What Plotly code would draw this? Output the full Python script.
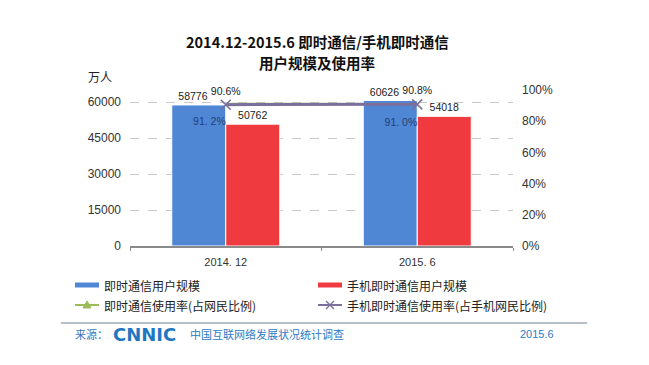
import plotly.graph_objects as go

categories = ["2014. 12", "2015. 6"]
im_users = [58776, 60626]
mobile_im_users = [50762, 54018]
im_rate = [0.912, 0.910]
mobile_im_rate = [0.906, 0.908]

im_rate_labels = ["91. 2%", "91. 0%"]
mobile_rate_labels = ["90.6%", "90.8%"]

W, H = 649, 365
L, R, T, B = 130, 513, 90, 246

def px(x):
    return (x - L) / (R - L)

def py(y):
    return (B - y) / (B - T)

FONT = "Arial, Liberation Sans, Noto Sans CJK SC, sans-serif"
CJK = "Noto Sans CJK SC, sans-serif"
BLUE = "#4f87d4"
RED = "#ef3b3f"
GREEN = "#9bbb59"
PURPLE = "#7b6f9c"
NB = "\u00a0"

fig = go.Figure()
fig.add_trace(go.Bar(
    x=categories, y=im_users, name="即时通信用户规模",
    marker=dict(color=BLUE, line=dict(color="#ffffff", width=1)),
    text=[str(v) + NB * 4 for v in im_users], textposition="outside",
    textfont=dict(size=10.5, color="#222", family=FONT), cliponaxis=False,
))
fig.add_trace(go.Bar(
    x=categories, y=mobile_im_users, name="手机即时通信用户规模",
    marker=dict(color=RED, line=dict(color="#ffffff", width=1)),
    text=[str(v) for v in mobile_im_users], textposition="outside",
    textfont=dict(size=10.5, color="#222", family=FONT), cliponaxis=False,
))
fig.add_trace(go.Scatter(
    x=categories, y=im_rate, yaxis="y2", name="即时通信使用率(占网民比例)",
    mode="lines+text", line=dict(color=GREEN, width=2),
    text=[" <br>" + t for t in im_rate_labels], textposition="bottom left",
    textfont=dict(size=10.5, color="#1f3f7a", family=FONT), cliponaxis=False,
))
fig.add_trace(go.Scatter(
    x=categories, y=mobile_im_rate, yaxis="y2", name="手机即时通信使用率(占手机网民比例)",
    mode="lines+markers+text", line=dict(color=PURPLE, width=3),
    marker=dict(symbol="x-thin", size=10, line=dict(color=PURPLE, width=1.5)),
    text=mobile_rate_labels, textposition="top center",
    textfont=dict(size=10.5, color="#222", family=FONT), cliponaxis=False,
))

shapes = []
annotations = []

# Title
annotations.append(dict(xref="paper", yref="paper", x=px(317), y=py(41), text="<b>2014.12-2015.6 即时通信/手机即时通信</b>",
                        showarrow=False, font=dict(size=14.5, color="#111", family=CJK), xanchor="center", yanchor="middle"))
annotations.append(dict(xref="paper", yref="paper", x=px(317), y=py(62), text="<b>用户规模及使用率</b>",
                        showarrow=False, font=dict(size=14.5, color="#111", family=CJK), xanchor="center", yanchor="middle"))
annotations.append(dict(xref="paper", yref="paper", x=px(100), y=py(76), text="万人",
                        showarrow=False, font=dict(size=12, color="#222", family=CJK), xanchor="center", yanchor="middle"))

# Legend (manual)
leg = [
    (75, 285, BLUE, "bar", "即时通信用户规模"),
    (318, 285, RED, "bar", "手机即时通信用户规模"),
    (75, 305, GREEN, "tri", "即时通信使用率(占网民比例)"),
    (318, 305, PURPLE, "x", "手机即时通信使用率(占手机网民比例)"),
]
for x0, yy, col, kind, label in leg:
    if kind == "bar":
        shapes.append(dict(type="line", xref="paper", yref="paper", x0=px(x0), x1=px(x0 + 24), y0=py(yy), y1=py(yy),
                           line=dict(color=col, width=5)))
    else:
        shapes.append(dict(type="line", xref="paper", yref="paper", x0=px(x0), x1=px(x0 + 24), y0=py(yy), y1=py(yy),
                           line=dict(color=col, width=2)))
        cx = x0 + 12
        if kind == "tri":
            shapes.append(dict(type="path", xref="paper", yref="paper",
                               path=f"M {px(cx-4)},{py(yy+3)} L {px(cx+4)},{py(yy+3)} L {px(cx)},{py(yy-4)} Z",
                               fillcolor=col, line=dict(color=col, width=1)))
        else:
            shapes.append(dict(type="line", xref="paper", yref="paper", x0=px(cx-4), x1=px(cx+4), y0=py(yy-4), y1=py(yy+4),
                               line=dict(color=col, width=1.2)))
            shapes.append(dict(type="line", xref="paper", yref="paper", x0=px(cx-4), x1=px(cx+4), y0=py(yy+4), y1=py(yy-4),
                               line=dict(color=col, width=1.2)))
    annotations.append(dict(xref="paper", yref="paper", x=px(x0 + 27), y=py(yy), text=label, showarrow=False,
                            font=dict(size=12, color="#222", family=CJK), xanchor="left", yanchor="middle"))

# Footer
shapes.append(dict(type="line", xref="paper", yref="paper", x0=px(61), x1=px(587), y0=py(323), y1=py(323),
                   line=dict(color="#6f7f8f", width=1)))
annotations.append(dict(xref="paper", yref="paper", x=px(73), y=py(334), text="来源：", showarrow=False,
                        font=dict(size=11, color="#3a78b8", family=CJK), xanchor="left", yanchor="middle"))
annotations.append(dict(xref="paper", yref="paper", x=px(111), y=py(334), text="<b>CNNIC</b>", showarrow=False,
                        font=dict(size=18, color="#1d78c1", family="DejaVu Sans, sans-serif"), xanchor="left", yanchor="middle"))
annotations.append(dict(xref="paper", yref="paper", x=px(188), y=py(334), text="中国互联网络发展状况统计调查", showarrow=False,
                        font=dict(size=11, color="#2b7bc4", family=CJK), xanchor="left", yanchor="middle"))
annotations.append(dict(xref="paper", yref="paper", x=px(556), y=py(334), text="2015.6", showarrow=False,
                        font=dict(size=11, color="#2b7bc4", family=FONT), xanchor="right", yanchor="middle"))

fig.update_layout(
    width=W, height=H,
    margin=dict(l=L, r=W - R, t=T, b=H - B),
    paper_bgcolor="white", plot_bgcolor="white",
    barmode="group", bargap=0.436, bargroupgap=0,
    showlegend=False,
    font=dict(family=FONT, size=12, color="#333"),
    xaxis=dict(type="category", range=[-0.5, 1.5], showline=True, linecolor="#8a8a8a", linewidth=1.5,
               ticks="outside", tickson="boundaries", ticklen=3, tickcolor="#8a8a8a", ticklabelstandoff=5,
               tickfont=dict(size=11, color="#333", family=FONT), showgrid=False, fixedrange=True),
    yaxis=dict(range=[0, 65000], tickvals=[0, 15000, 30000, 45000, 60000], ticktext=["0", "15000", "30000", "45000", "60000"],
               showgrid=True, gridcolor="#c8c8c8", griddash="dash", gridwidth=1, zeroline=False, showline=False,
               tickfont=dict(size=12, color="#333", family=FONT), ticks="", ticklabelstandoff=8),
    yaxis2=dict(range=[0, 1], overlaying="y", side="right", tickvals=[0, 0.2, 0.4, 0.6, 0.8, 1.0],
                ticktext=["0%", "20%", "40%", "60%", "80%", "100%"], showgrid=False, zeroline=False, showline=False,
                tickfont=dict(size=12, color="#333", family=FONT), ticklabelstandoff=8),
    shapes=shapes, annotations=annotations,
)

fig.write_html("out.html", post_script="document.body.style.margin='0';",
               config={"displayModeBar": False})
